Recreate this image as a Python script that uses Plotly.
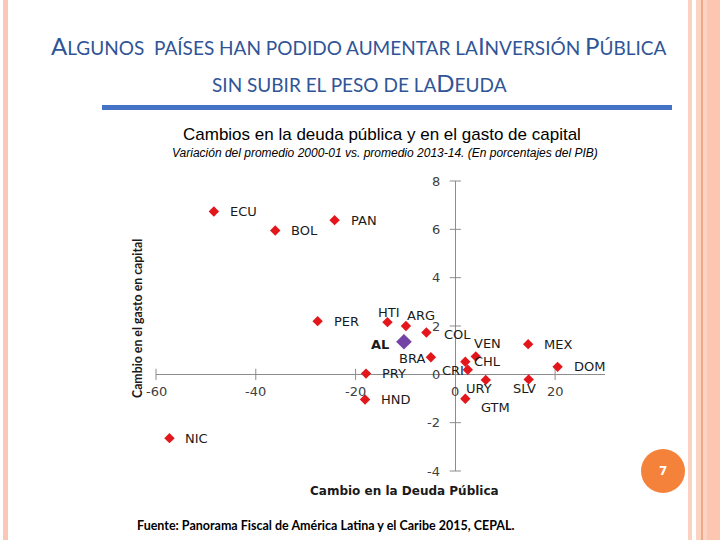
import plotly.graph_objects as go

# ---------------- data ----------------
paises = ["ECU", "BOL", "PAN", "PER", "HTI", "ARG", "COL", "BRA", "VEN", "CHL",
          "CRI", "MEX", "DOM", "URY", "SLV", "GTM", "PRY", "HND", "NIC"]
cambio_deuda = [-48.4, -36.1, -24.2, -27.6, -13.6, -9.9, -5.8, -4.9, 4.1, 2.0,
                2.5, 14.6, 20.5, 6.1, 14.7, 2.0, -17.9, -18.1, -57.3]
cambio_gasto = [6.74, 5.95, 6.38, 2.20, 2.16, 2.00, 1.73, 0.71, 0.74, 0.52,
                0.19, 1.25, 0.31, -0.23, -0.21, -1.01, 0.03, -1.04, -2.64]
al_nombre = "AL"
al_deuda = [-10.3]
al_gasto = [1.35]

x_ticks = [-60, -40, -20, 0, 20]
x_tick_labels = ["-60", "-40", "-20", "0", "20"]
y_ticks = [-4, -2, 0, 2, 4, 6, 8]
y_tick_labels = ["-4", "-2", "0", "2", "4", "6", "8"]

# label placement (pixel offsets, anchor) -- layout only
label_pos = {
    "ECU": (14, 0, "left"), "BOL": (14, 0, "left"), "PAN": (14, 0, "left"),
    "PER": (14, 0, "left"), "HTI": (2, 10, "center"), "ARG": (15, 11, "center"),
    "COL": (16, -2, "left"), "BRA": (-4, -1, "right"), "VEN": (12, 13, "center"),
    "CHL": (7, 0, "left"), "CRI": (-2, -1, "right"), "MEX": (14, 0, "left"),
    "DOM": (14, 0, "left"), "URY": (-7, -9, "center"), "SLV": (-4, -9, "center"),
    "GTM": (30, -9, "center"), "PRY": (14, 0, "left"), "HND": (14, 0, "left"),
    "NIC": (14, 0, "left"),
}

# plot area geometry (pixels)
L, R, T, B = 156, 605, 181, 471
W, H = 720, 540


def px(xp):
    return (xp - L) / (R - L)


def py(yp):
    return (B - yp) / (B - T)


fig = go.Figure()

AX = "#8c8c8c"
fig.add_trace(go.Scatter(
    x=[t for t in x_ticks if t != 0], y=[0] * (len(x_ticks) - 1), mode="markers",
    marker=dict(symbol="line-ns", size=8, line=dict(color=AX, width=1)),
    hoverinfo="skip", showlegend=False, cliponaxis=False))
fig.add_trace(go.Scatter(
    x=[0] * (len(y_ticks) - 1), y=[t for t in y_ticks if t != 0], mode="markers",
    marker=dict(symbol="line-ew", size=8, line=dict(color=AX, width=1)),
    hoverinfo="skip", showlegend=False, cliponaxis=False))

fig.add_trace(go.Scatter(
    x=cambio_deuda, y=cambio_gasto, mode="markers",
    marker=dict(symbol="diamond", size=8, color="#E3161B"),
    showlegend=False, cliponaxis=False))
fig.add_trace(go.Scatter(
    x=al_deuda, y=al_gasto, mode="markers",
    marker=dict(symbol="diamond", size=12, color="#7443A6"),
    showlegend=False, cliponaxis=False))

ann = []
LF = dict(family="DejaVu Sans", size=13, color="#1a1a1a")
for n, xv, yv in zip(paises, cambio_deuda, cambio_gasto):
    dx, dy, anc = label_pos[n]
    ann.append(dict(x=xv, y=yv, text=n, showarrow=False, xanchor=anc, yanchor="middle",
                    xshift=dx, yshift=dy, font=LF))
ann.append(dict(x=al_deuda[0], y=al_gasto[0], text="<b>" + al_nombre + "</b>", showarrow=False,
                xanchor="right", yanchor="middle", xshift=-13, yshift=-3, font=LF))

TF = dict(family="DejaVu Sans", size=13, color="#404040")
for t, lab in zip(x_ticks, x_tick_labels):
    ann.append(dict(x=t, y=0, text=lab, showarrow=False, xanchor="center", yanchor="middle",
                    yshift=-17, font=TF))
for t, lab in zip(y_ticks, y_tick_labels):
    ann.append(dict(x=0, y=t, text=lab, showarrow=False, xanchor="right", yanchor="middle",
                    xshift=-13, font=TF))

# axis titles
ann.append(dict(xref="paper", yref="paper", x=px(404), y=py(491),
                text="<b>Cambio en la Deuda Pública</b>", showarrow=False,
                xanchor="center", yanchor="middle",
                font=dict(family="DejaVu Sans", size=12, color="#1a1a1a")))
ann.append(dict(xref="paper", yref="paper", x=px(137), y=py(319),
                text="<b>Cambio en el gasto en capital</b>", showarrow=False, textangle=-90,
                xanchor="center", yanchor="middle",
                font=dict(family="Liberation Sans Narrow, Lato", size=12.3, color="#1a1a1a")))

# chart titles
ann.append(dict(xref="paper", yref="paper", x=px(382), y=py(134),
                text="Cambios en la deuda pública y en el gasto de capital", showarrow=False,
                xanchor="center", yanchor="middle",
                font=dict(family="Liberation Sans", size=17, color="#000000")))
ann.append(dict(xref="paper", yref="paper", x=px(385), y=py(153),
                text="<i>Variación del promedio 2000-01 vs. promedio 2013-14. (En porcentajes del PIB)</i>",
                showarrow=False, xanchor="center", yanchor="middle",
                font=dict(family="Liberation Sans", size=12, color="#000000")))

# slide title (small caps)
BIG, SM = 24, 19
def sc(big, rest):
    return f"<span style='font-size:{BIG}px'>{big}</span><span style='font-size:{SM}px'>{rest}</span>"

line1 = (sc("A", "LGUNOS") + f"<span style='font-size:{SM}px'>  PAÍSES HAN PODIDO AUMENTAR LA</span>"
         + sc("I", "NVERSIÓN") + f"<span style='font-size:{SM}px'> </span>" + sc("P", "ÚBLICA"))
line2 = f"<span style='font-size:{SM}px'>SIN SUBIR EL PESO DE LA</span>" + sc("D", "EUDA")
ann.append(dict(xref="paper", yref="paper", x=px(359), y=py(45), text=line1, showarrow=False,
                xanchor="center", yanchor="middle",
                font=dict(family="Lato", size=SM, color="#2F5597")))
ann.append(dict(xref="paper", yref="paper", x=px(359), y=py(82), text=line2, showarrow=False,
                xanchor="center", yanchor="middle",
                font=dict(family="Lato", size=SM, color="#2F5597")))

# source
ann.append(dict(xref="paper", yref="paper", x=px(135), y=py(525),
                text="<b>Fuente: Panorama Fiscal de América Latina y el Caribe 2015, CEPAL.</b>",
                showarrow=False, xanchor="left", yanchor="middle",
                font=dict(family="Lato", size=12.5, color="#000000")))

# page number
ann.append(dict(xref="paper", yref="paper", x=px(663), y=py(471), text="<b>7</b>",
                showarrow=False, xanchor="center", yanchor="middle",
                font=dict(family="DejaVu Sans", size=12, color="#ffffff")))

shapes = []
def rect(x0, x1, y0, y1, color):
    shapes.append(dict(type="rect", xref="paper", yref="paper", x0=px(x0), x1=px(x1),
                       y0=py(y1), y1=py(y0), fillcolor=color, line=dict(width=0), layer="below"))

rect(3, 8, 0, 540, "#F9C9B6")
rect(688, 692, 0, 540, "#FAD2C2")
rect(696, 720, 0, 540, "#FBD3C3")
rect(701, 703, 0, 540, "#F0A889")
rect(707, 720, 0, 540, "#FCC6B1")
rect(102, 672, 105, 110, "#4472C4")
shapes.append(dict(type="circle", xref="paper", yref="paper", x0=px(641), x1=px(685),
                   y0=py(493), y1=py(449), fillcolor="#F5823A", line=dict(width=0)))

fig.update_layout(
    width=W, height=H,
    margin=dict(l=L, r=W - R, t=T, b=H - B, pad=0),
    paper_bgcolor="white", plot_bgcolor="white",
    xaxis=dict(range=[-60, 30], showgrid=False, zeroline=True, zerolinecolor=AX,
               zerolinewidth=1, showticklabels=False, ticks="", showline=False, fixedrange=True),
    yaxis=dict(range=[-4, 8], showgrid=False, zeroline=True, zerolinecolor=AX,
               zerolinewidth=1, showticklabels=False, ticks="", showline=False, fixedrange=True),
    annotations=ann, shapes=shapes, showlegend=False,
)

fig.write_html("out.html")
